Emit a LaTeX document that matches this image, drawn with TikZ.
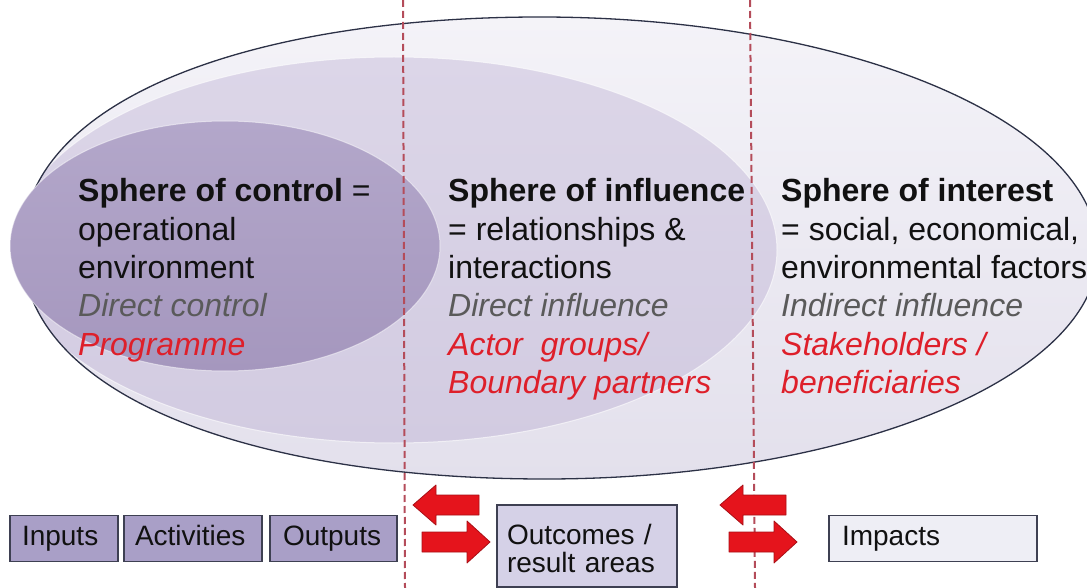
\documentclass[tikz,border=0pt]{standalone}
\usepackage{fontspec}
\setmainfont{Liberation Sans}
\definecolor{outerTop}{HTML}{F4F3F8}
\definecolor{outerBot}{HTML}{E3E0EC}
\definecolor{midTop}{HTML}{DCD6E8}
\definecolor{midBot}{HTML}{D2CBE1}
\definecolor{innerTop}{HTML}{B3A7CA}
\definecolor{innerBot}{HTML}{A597BE}
\definecolor{rimline}{HTML}{2C3146}
\definecolor{divider}{HTML}{B44C5A}
\definecolor{textdark}{HTML}{111111}
\definecolor{textgrey}{HTML}{5A5A5A}
\definecolor{textred}{HTML}{DE1F2A}
\definecolor{boxdark}{HTML}{A99FC7}
\definecolor{boxmid}{HTML}{D5D1E7}
\definecolor{boxlight}{HTML}{EEEEF5}
\definecolor{boxline}{HTML}{3E4052}
\definecolor{arrowfill}{HTML}{E5141C}
\definecolor{arrowedge}{HTML}{A80F16}
% outline of the sphere of interest: blunt on the left, elliptic on the right
\newcommand\interestOutline{%
  (22,247) .. controls (22,97.5) and (255,17) .. (540,17)
  .. controls (848,17) and (1098,122) .. (1098,252)
  .. controls (1098,377) and (850,479) .. (545,479)
  .. controls (257,479) and (22,398) .. (22,247) -- cycle}
\begin{document}
\begin{tikzpicture}[x=1pt,y=-1pt,
  spheretext/.style={anchor=north west, inner sep=0pt, align=left,
    font=\fontsize{32}{38.3}\selectfont, text=textdark},
  lowbox/.style={draw=boxline, line width=1.2pt, inner ysep=0pt,
    minimum height=46pt, align=left, text=textdark,
    font=\fontsize{28}{27.7}\selectfont, text height=20pt, text depth=6pt},
  twolinebox/.style={draw=boxline, line width=1.2pt, inner ysep=0pt,
    minimum height=82pt, align=left, text=textdark,
    font=\fontsize{28}{27.7}\selectfont},
  dividerline/.style={draw=divider, line width=2pt, dash pattern=on 7pt off 4pt},
  redarrow/.style={fill=arrowfill, draw=arrowedge, line width=0.8pt, line join=round}
]
\useasboundingbox (0,0) rectangle (1087,588);
\clip (0,0) rectangle (1087,588);

% centres of the two inner spheres
\coordinate (influenceC) at (394,250);
\coordinate (controlC) at (225,246);

% sphere of interest (outer)
\shade[top color=outerTop, bottom color=outerBot] \interestOutline;

% sphere of influence, kept inside the outer sphere
\begin{scope}
  \clip \interestOutline;
  \shade[top color=midTop, bottom color=midBot]
    (influenceC) ellipse [x radius=383pt, y radius=193pt];
  \draw[white, opacity=0.6, line width=1pt]
    (influenceC) ellipse [x radius=383pt, y radius=193pt];
\end{scope}

% outline of the outer sphere
\draw[rimline, line width=1.3pt] \interestOutline;

% sphere of control (inner)
\shade[top color=innerTop, bottom color=innerBot]
  (controlC) ellipse [x radius=215pt, y radius=125pt];
\draw[white, opacity=0.5, line width=1pt]
  (controlC) ellipse [x radius=215pt, y radius=125pt];

% sphere descriptions
\node[spheretext] (controlText) at (78,178.6)
  {\textbf{Sphere of control} =\\
   operational\\
   environment\\
   \textcolor{textgrey}{\itshape Direct control}\\
   \textcolor{textred}{\itshape Programme}};

\node[spheretext] (influenceText) at (448,178.6)
  {\textbf{Sphere of influence}\\
   = relationships \&\\
   interactions\\
   \textcolor{textgrey}{\itshape Direct influence}\\
   \textcolor{textred}{\itshape Actor\ \ groups/}\\
   \textcolor{textred}{\itshape Boundary partners}};

\node[spheretext] (interestText) at (781,178.6)
  {\textbf{Sphere of interest}\\
   = social, economical,\\
   environmental factors\\
   \textcolor{textgrey}{\itshape Indirect influence}\\
   \textcolor{textred}{\itshape Stakeholders /}\\
   \textcolor{textred}{\itshape beneficiaries}};

% results chain boxes
\node[lowbox, fill=boxdark, inner xsep=12pt, text width=84pt]
  (inputs) at (64,538.5) {Inputs};
\node[lowbox, fill=boxdark, inner xsep=11pt, text width=116pt]
  (activities) at (193,538.5) {Activities};
\node[lowbox, fill=boxdark, inner xsep=13pt, text width=101pt]
  (outputs) at (333.5,538.5) {Outputs};
\node[twolinebox, fill=boxmid, inner xsep=10pt, text width=160pt]
  (outcomes) at (587,546) {\rule{0pt}{25.6pt}Outcomes /\\result areas};
\node[lowbox, fill=boxlight, inner xsep=13pt, text width=182pt]
  (impacts) at (933,538.5) {Impacts};

% dividers between the spheres
\coordinate (divAtop) at (403,0);
\coordinate (divAbot) at (405,588);
\coordinate (divBtop) at (750,0);
\coordinate (divBbot) at (755,588);
\draw[dividerline] (divAtop) -- (divAbot);
\draw[dividerline] (divBtop) -- (divBbot);

% two-way block arrows
\foreach \ox in {0,307} {
  \begin{scope}[xshift=\ox pt]
    \draw[redarrow] (413,505) -- (436,485) -- (436,495) -- (479,495)
      -- (479,515) -- (436,515) -- (436,525) -- cycle;
    \draw[redarrow] (490,542) -- (467,521) -- (467,532) -- (422,532)
      -- (422,552) -- (467,552) -- (467,563) -- cycle;
  \end{scope}
}
\end{tikzpicture}
\end{document}
